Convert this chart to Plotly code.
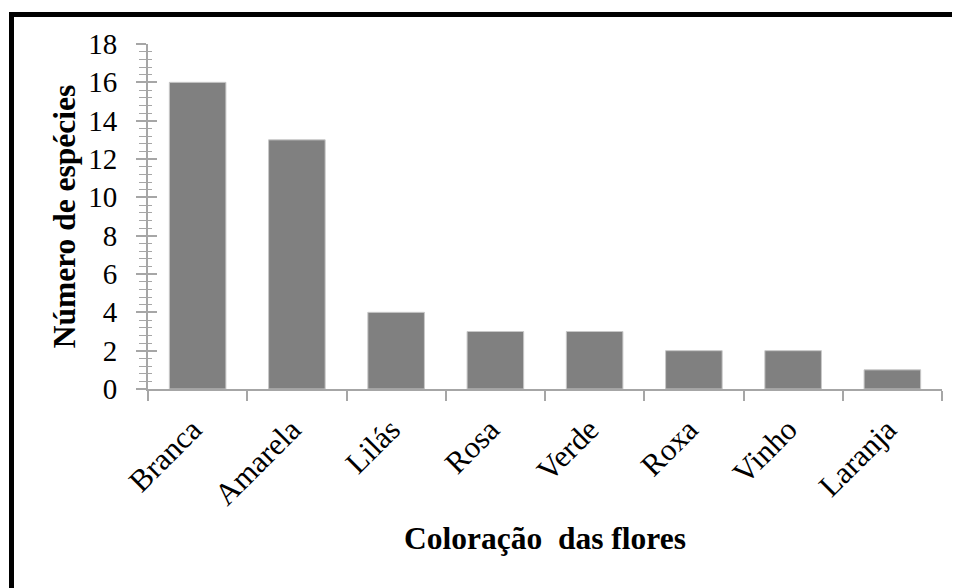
import plotly.graph_objects as go

categories = ["Branca", "Amarela", "Lilás", "Rosa", "Verde", "Roxa", "Vinho", "Laranja"]
values = [16, 13, 4, 3, 3, 2, 2, 1]
y_ticks = [0, 2, 4, 6, 8, 10, 12, 14, 16, 18]

# the page body has an 8px margin, so the figure is offset by 8px
OFF = 8
W, H = 960 - OFF, 588 - OFF
L, R, T, B = 148 - OFF, 18, 44 - OFF, 199
pw, ph = W - L - R, H - T - B

def px2x(px):
    return (px - OFF - L) / pw

def py2y(py):
    return (H - B - (py - OFF)) / ph

FONT = "Liberation Serif, Times New Roman, serif"
AX = "#a6a6a6"

fig = go.Figure()
fig.add_trace(go.Bar(
    x=categories, y=values,
    marker=dict(color="#808080", line=dict(color="#c8c8c8", width=1)),
    width=0.57,
))
fig.add_trace(go.Scatter(x=[categories[0]], y=[0], yaxis="y2", mode="markers",
                         marker=dict(opacity=0), showlegend=False, hoverinfo="skip"))

fig.update_layout(
    template="none",
    width=W, height=H,
    margin=dict(l=L, r=R, t=T, b=B, autoexpand=False),
    paper_bgcolor="white", plot_bgcolor="white",
    showlegend=False,
    font=dict(family=FONT, color="black", size=28),
    xaxis=dict(
        type="category", automargin=False,
        showline=True, linecolor=AX, linewidth=2,
        ticks="outside", tickson="boundaries", ticklen=10, tickcolor=AX, tickwidth=2,
        tickangle=-45, tickfont=dict(size=31, family=FONT),
        ticklabelstandoff=8, ticklabelshift=-5,
        showgrid=False, zeroline=False,
        title=dict(text="<b>Coloração  das flores</b>", font=dict(size=31.5, family=FONT), standoff=16),
    ),
    yaxis=dict(
        range=[0, 18], tickvals=y_ticks, ticktext=[str(v) for v in y_ticks], automargin=False,
        showline=True, linecolor=AX, linewidth=2,
        ticks="outside", ticklen=10, tickcolor=AX, tickwidth=2,
        minor=dict(dtick=0.4, tick0=0, ticks="outside", ticklen=7, tickcolor=AX, tickwidth=1),
        tickfont=dict(size=29, family=FONT), ticklabelstandoff=13,
        showgrid=False, zeroline=False,
        title=dict(text="<b>Número de espécies</b>", font=dict(size=31.5, family=FONT), standoff=3),
    ),
    yaxis2=dict(
        overlaying="y", side="left", anchor="x", range=[0, 18], automargin=False,
        tickvals=y_ticks, showticklabels=False,
        ticks="inside", ticklen=9, tickcolor=AX, tickwidth=2,
        minor=dict(dtick=0.4, tick0=0, ticks="inside", ticklen=4, tickcolor=AX, tickwidth=1),
        showgrid=False, zeroline=False, showline=False,
    ),
    shapes=[
        dict(type="line", xref="paper", yref="paper",
             x0=px2x(11.5), x1=px2x(962), y0=py2y(14.5), y1=py2y(14.5),
             line=dict(color="black", width=5), layer="above"),
        dict(type="line", xref="paper", yref="paper",
             x0=px2x(11.5), x1=px2x(11.5), y0=py2y(12), y1=py2y(590),
             line=dict(color="black", width=5), layer="above"),
    ],
)

fig.write_html("out.html")
